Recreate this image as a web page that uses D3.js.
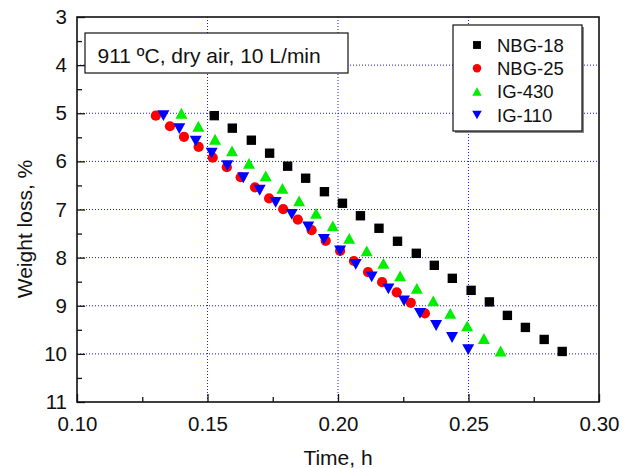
<!DOCTYPE html>
<html>
<head>
<meta charset="utf-8">
<script src="https://cdn.jsdelivr.net/npm/d3@7"></script>
<style>
  body { margin: 0; background: #fff; }
  svg text { font-family: "Liberation Sans", Arial, sans-serif; fill: #111; }
</style>
</head>
<body>
<div id="chart"></div>
<script>
// values
const nbg18Time = [0.1526, 0.1595, 0.1668, 0.1738, 0.1807, 0.1876, 0.1948, 0.2017, 0.2086, 0.2157,
                   0.2228, 0.2300, 0.2369, 0.2438, 0.2510, 0.2580, 0.2649, 0.2718, 0.2790, 0.2859];
const nbg18Loss = [5.05, 5.31, 5.56, 5.83, 6.10, 6.35, 6.63, 6.87, 7.13, 7.39,
                   7.66, 7.91, 8.16, 8.43, 8.68, 8.92, 9.20, 9.45, 9.70, 9.95];
const nbg25Time = [0.1302, 0.1356, 0.1410, 0.1466, 0.1520, 0.1574, 0.1627, 0.1682, 0.1736, 0.1790,
                   0.1846, 0.1899, 0.1953, 0.2008, 0.2061, 0.2115, 0.2169, 0.2225, 0.2279, 0.2333];
const nbg25Loss = [5.05, 5.27, 5.49, 5.70, 5.92, 6.12, 6.33, 6.54, 6.77, 6.99,
                   7.21, 7.43, 7.65, 7.86, 8.07, 8.30, 8.51, 8.72, 8.94, 9.16];
const ig430Time = [0.1400, 0.1465, 0.1529, 0.1594, 0.1659, 0.1723, 0.1787, 0.1851, 0.1916, 0.1980,
                   0.2043, 0.2110, 0.2174, 0.2238, 0.2302, 0.2365, 0.2430, 0.2495, 0.2559, 0.2623];
const ig430Loss = [5.00, 5.27, 5.54, 5.78, 6.04, 6.30, 6.56, 6.82, 7.08, 7.34,
                   7.60, 7.86, 8.12, 8.38, 8.64, 8.90, 9.16, 9.42, 9.68, 9.94];
const ig110Time = [0.1331, 0.1392, 0.1455, 0.1516, 0.1576, 0.1637, 0.1700, 0.1761, 0.1823, 0.1886,
                   0.1946, 0.2008, 0.2068, 0.2129, 0.2193, 0.2253, 0.2314, 0.2376, 0.2437, 0.2499];
const ig110Loss = [5.05, 5.32, 5.58, 5.83, 6.09, 6.34, 6.60, 6.85, 7.10, 7.36,
                   7.62, 7.86, 8.14, 8.40, 8.65, 8.90, 9.16, 9.41, 9.66, 9.91];

const seriesNames = ['NBG-18', 'NBG-25', 'IG-430', 'IG-110'];
const xTicks = [0.10, 0.15, 0.20, 0.25, 0.30];
const yTicks = [3, 4, 5, 6, 7, 8, 9, 10, 11];
const annotation = '911 ºC, dry air, 10 L/min';

const width = 635, height = 468;
const margin = { top: 17, right: 36, bottom: 66, left: 77 };

const x = d3.scaleLinear().domain([0.1, 0.3]).range([margin.left, width - margin.right]);
const y = d3.scaleLinear().domain([3, 11]).range([margin.top, height - margin.bottom]);

// triangles centred on their bounding box, like the plotting program does
const triUp = {
    draw(ctx, size) {
        const w = Math.sqrt(size), h = w * 0.9;
        ctx.moveTo(0, -h / 2); ctx.lineTo(w / 2, h / 2); ctx.lineTo(-w / 2, h / 2); ctx.closePath();
    }
};
const triDown = {
    draw(ctx, size) {
        const w = Math.sqrt(size), h = w * 0.9;
        ctx.moveTo(0, h / 2); ctx.lineTo(w / 2, -h / 2); ctx.lineTo(-w / 2, -h / 2); ctx.closePath();
    }
};

const series = [
    { name: seriesNames[0], t: nbg18Time, w: nbg18Loss, color: '#000000', type: d3.symbolSquare, size: 88, legendSize: 62 },
    { name: seriesNames[1], t: nbg25Time, w: nbg25Loss, color: '#ff0000', type: d3.symbolCircle, size: 82, legendSize: 56 },
    { name: seriesNames[2], t: ig430Time, w: ig430Loss, color: '#00ee00', type: triUp, size: 144, legendSize: 90 },
    { name: seriesNames[3], t: ig110Time, w: ig110Loss, color: '#0000ff', type: triDown, size: 144, legendSize: 90 }
];

const svg = d3.select('#chart').append('svg').attr('width', width).attr('height', height);

// grid
const grid = svg.append('g').attr('stroke', '#1a1aff').attr('stroke-width', 1).attr('stroke-dasharray', '1,2');
grid.selectAll('.gx').data(xTicks.slice(1, -1)).join('line')
    .attr('x1', d => x(d)).attr('x2', d => x(d))
    .attr('y1', y(3)).attr('y2', y(11));
grid.selectAll('.gy').data(yTicks.slice(1, -1)).join('line')
    .attr('y1', d => y(d)).attr('y2', d => y(d))
    .attr('x1', x(0.1)).attr('x2', x(0.3));

// axes, ticks pointing inward
const minorX = d3.range(0.125, 0.3, 0.05);
const minorY = d3.range(3.5, 11, 1);

svg.append('g').attr('transform', `translate(0,${y(11)})`)
    .call(d3.axisBottom(x).tickValues(xTicks).tickSize(-8).tickPadding(14).tickFormat(d3.format('.2f')));
svg.append('g').attr('transform', `translate(0,${y(11)})`)
    .call(d3.axisBottom(x).tickValues(minorX).tickSize(-5).tickFormat(''));
svg.append('g').attr('transform', `translate(${x(0.1)},0)`)
    .call(d3.axisLeft(y).tickValues(yTicks).tickSize(-8).tickPadding(10).tickFormat(d3.format('d')));
svg.append('g').attr('transform', `translate(${x(0.1)},0)`)
    .call(d3.axisLeft(y).tickValues(minorY).tickSize(-5).tickFormat(''));

svg.selectAll('.domain').remove();
svg.selectAll('.tick line').attr('stroke', '#111').attr('stroke-width', 1.3);
svg.selectAll('.tick text').attr('font-size', 20.5).attr('fill', '#111');

// frame
svg.append('rect')
    .attr('x', x(0.1)).attr('y', y(3))
    .attr('width', x(0.3) - x(0.1)).attr('height', y(11) - y(3))
    .attr('fill', 'none').attr('stroke', '#111').attr('stroke-width', 1.6);

// points
series.forEach(s => {
    svg.append('g').selectAll('path').data(d3.range(s.t.length)).join('path')
        .attr('transform', i => `translate(${x(s.t[i])},${y(s.w[i])})`)
        .attr('d', d3.symbol().type(s.type).size(s.size))
        .attr('fill', s.color);
});

// annotation box
svg.append('rect').attr('x', 85).attr('y', 33).attr('width', 263).attr('height', 40)
    .attr('fill', '#fff').attr('stroke', '#111').attr('stroke-width', 1.2);
svg.append('text').attr('x', 97.5).attr('y', 62.5).attr('font-size', 21).text(annotation);

// legend
const legend = svg.append('g').attr('transform', 'translate(453,25)');
legend.append('rect').attr('x', 2).attr('y', 2).attr('width', 129).attr('height', 106).attr('fill', '#888');
legend.append('rect').attr('width', 129).attr('height', 106)
    .attr('fill', '#fff').attr('stroke', '#111').attr('stroke-width', 1.2);
const rows = legend.selectAll('.row').data(series).join('g')
    .attr('transform', (d, i) => `translate(0,${20 + i * 23.3})`);
rows.append('path')
    .attr('transform', 'translate(24,0)')
    .attr('d', d => d3.symbol().type(d.type).size(d.legendSize)())
    .attr('fill', d => d.color);
rows.append('text').attr('x', 44).attr('dy', '0.36em').attr('font-size', 18.5).text(d => d.name);

// axis titles
svg.append('text').attr('x', x(0.2)).attr('y', 465).attr('text-anchor', 'middle')
    .attr('font-size', 21).text('Time, h');
svg.append('text').attr('transform', 'translate(32,229) rotate(-90)').attr('text-anchor', 'middle')
    .attr('font-size', 21).text('Weight loss, %');
</script>
</body>
</html>
